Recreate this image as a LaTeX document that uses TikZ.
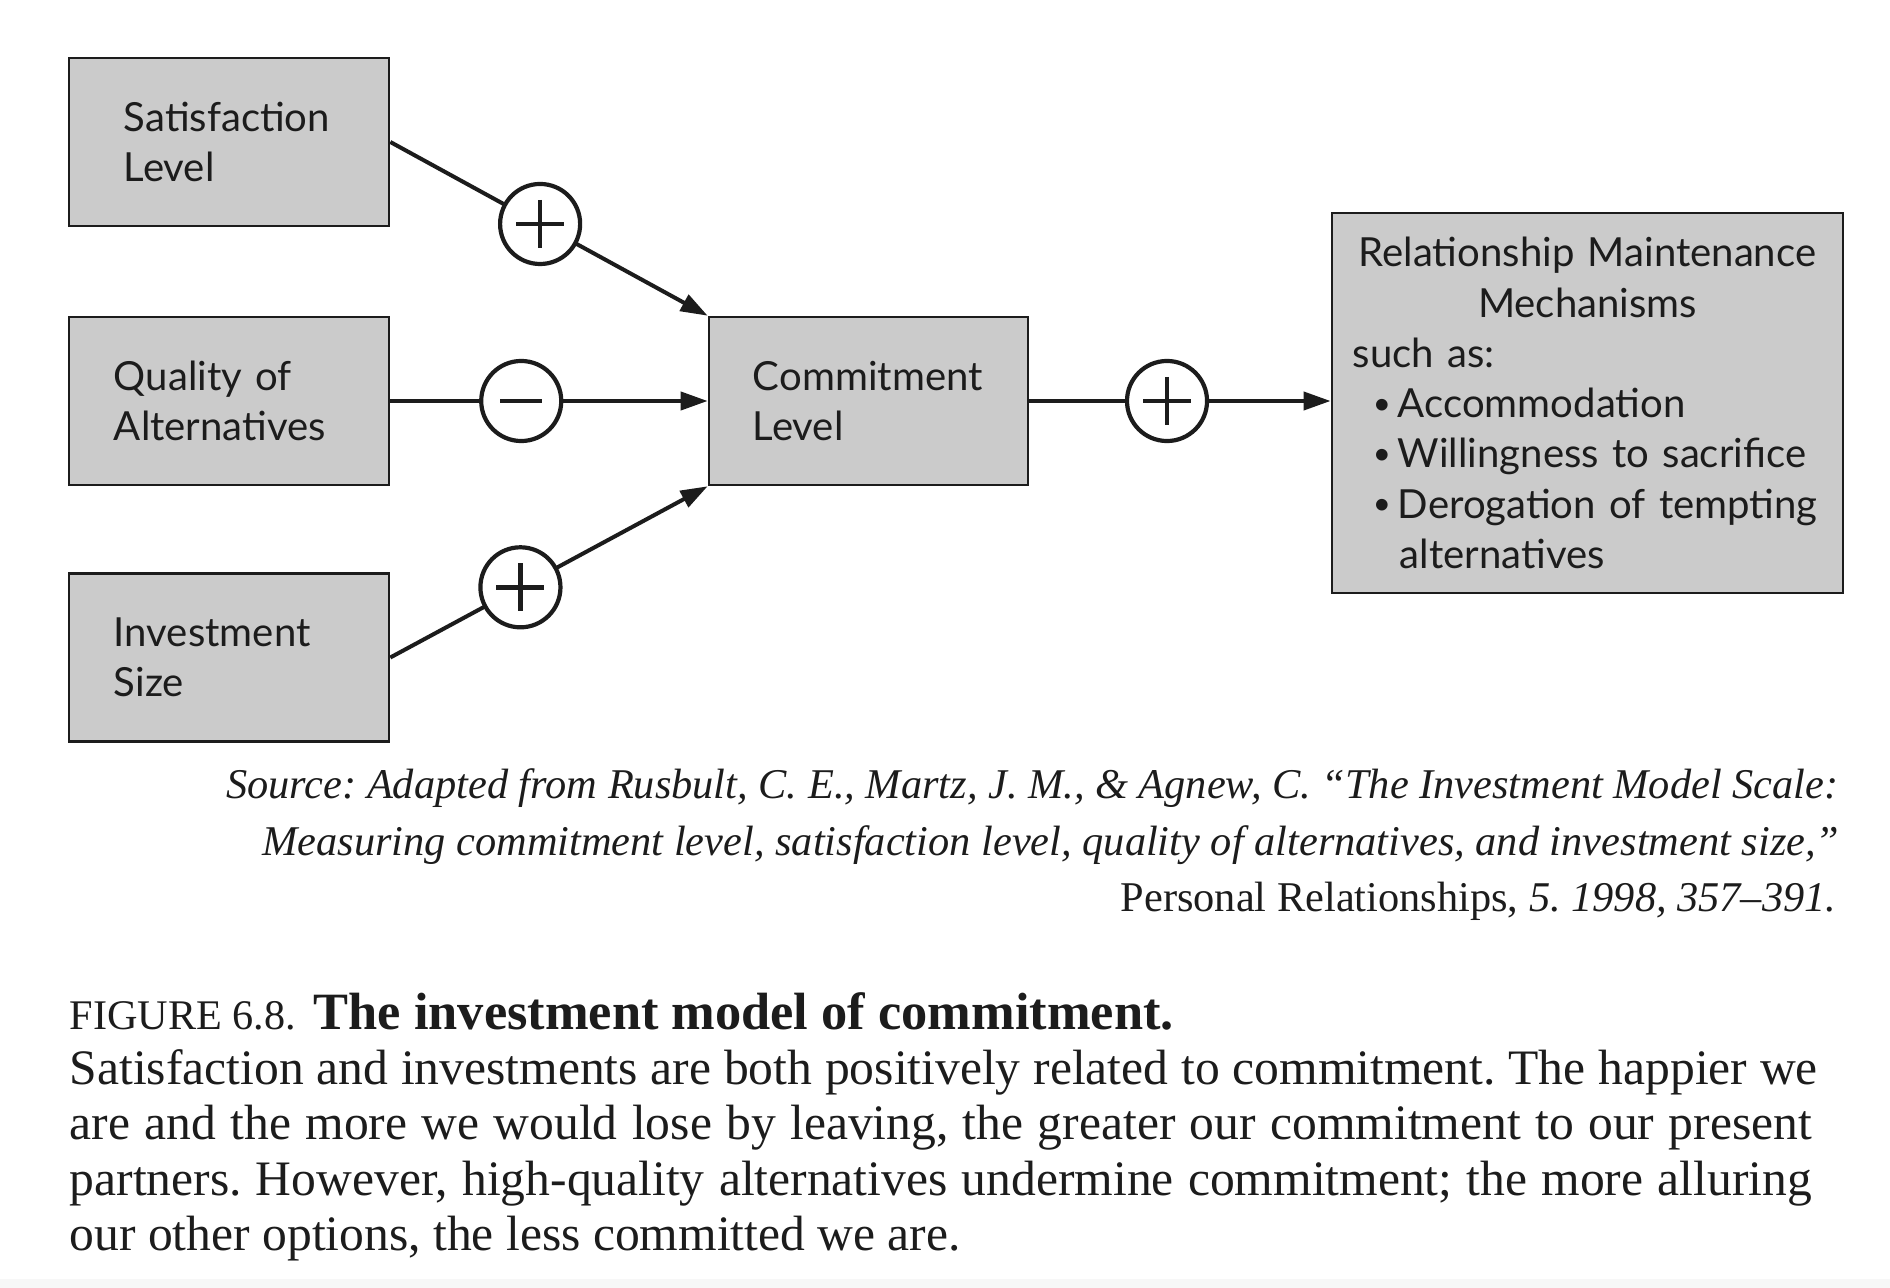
\documentclass[tikz,border=0pt]{standalone}
\usepackage{fontspec}
\setmainfont{Liberation Serif}
\newfontfamily\boxfont{Lato}
\usetikzlibrary{arrows.meta,calc}
\definecolor{boxgray}{HTML}{CBCBCB}
\definecolor{ink}{HTML}{1C1C1C}
\frenchspacing
\newcommand{\bul}{\hspace*{0.2cm}\makebox[0.25cm][l]{\raisebox{0.035cm}{\scalebox{0.78}{•}}}}
\begin{document}
\begin{tikzpicture}[x=0.01cm,y=-0.01cm,
  box/.style={draw=ink, line width=0.025cm, fill=boxgray, rectangle, text=ink,
    font=\boxfont\fontsize{11.4}{14.3}\selectfont, align=left, inner ysep=0pt},
  arr/.style={draw=ink, line width=0.04cm, -{Triangle[length=0.27cm,width=0.18cm]}},
  sign/.style={circle, draw=ink, line width=0.042cm, fill=white, minimum size=0.8cm, inner sep=0pt},
  bar/.style={draw=ink, line width=0.045cm},
  txt/.style={inner sep=0pt, text=ink},
]
\fill[white] (0,0) rectangle (1890,1288);
\fill[gray!6] (0,1279) rectangle (1890,1288);
\useasboundingbox (0,0) rectangle (1890,1288);

% boxes
\node[box, minimum width=3.2cm, minimum height=1.68cm, text width=2.1cm, inner xsep=0.55cm] (sat) at (229,142) {\mbox{Satisfaction}\\Level};
\node[box, minimum width=3.2cm, minimum height=1.68cm, text width=2.3cm, inner xsep=0.45cm] (qual) at (229,401) {\mbox{Quality of}\\\mbox{Alternatives}};
\node[box, minimum width=3.2cm, minimum height=1.68cm, text width=2.3cm, inner xsep=0.45cm] (inv) at (229,657.5) {\mbox{Investment}\\Size};
\node[box, minimum width=3.19cm, minimum height=1.68cm, text width=2.31cm, inner xsep=0.44cm] (com) at (868.5,401) {\mbox{Commitment}\\Level};
\node[box, minimum width=5.11cm, minimum height=3.8cm, text width=4.69cm, inner xsep=0.21cm] (rel) at (1587.5,403)
 {\makebox[4.69cm][c]{Relationship Maintenance}\\
  \makebox[4.69cm][c]{Mechanisms}\\
  \mbox{such as:}\\
  \mbox{\bul Accommodation}\\
  \mbox{\bul Willingness to sacrifice}\\
  \mbox{\bul Derogation of tempting}\\
  \mbox{\hspace*{0.47cm}alternatives}};

% connectors
\draw[arr] (sat.east) -- (com.north west);
\draw[arr] (qual.east) -- (com.west);
\draw[arr] (inv.east) -- (com.south west);
\draw[arr] (com.east) -- (com.east -| rel.west);

% sign circles
\node[sign] (s1) at ($(sat.east)!0.472!(com.north west)$) {};
\node[sign] (s2) at ($(qual.east)!0.4125!(com.west)$) {};
\node[sign] (s3) at ($(inv.east)!0.41!(com.south west)$) {};
\node[sign] (s4) at ($(com.east)!0.457!(com.east -| rel.west)$) {};
\draw[bar] ($(s1)+(-24,0)$) -- ($(s1)+(24,0)$) ($(s1)+(0,-24)$) -- ($(s1)+(0,24)$);
\draw[bar] ($(s2)+(-21,0)$) -- ($(s2)+(21,0)$);
\draw[bar] ($(s3)+(-24,0)$) -- ($(s3)+(24,0)$) ($(s3)+(0,-24)$) -- ($(s3)+(0,24)$);
\draw[bar] ($(s4)+(-24,0)$) -- ($(s4)+(24,0)$) ($(s4)+(0,-24)$) -- ($(s4)+(0,24)$);

% source
\node[txt, anchor=base east, font=\itshape\fontsize{12.05}{14}\selectfont] (src1) at (1839,798)
 {Source: Adapted from Rusbult, C. E., Martz, J. M., \& Agnew, C. “The Investment Model Scale:};
\node[txt, anchor=base east, font=\itshape\fontsize{12.05}{14}\selectfont] (src2) at (1840,855)
 {Measuring commitment level, satisfaction level, quality of alternatives, and investment size,”};
\node[txt, anchor=base east, font=\fontsize{12.05}{14}\selectfont] (src3) at (1837,911)
 {Personal Relationships, \textit{5. 1998, 357–391.}};

% caption
\node[txt, anchor=base west, font=\fontsize{12}{14}\selectfont] (figlbl) at (69,1029) {FIGURE 6.8.};
\node[txt, anchor=base west, font=\bfseries\fontsize{14.9}{16}\selectfont] (figttl) at (313,1029) {The investment model of commitment.};
\node[txt, anchor=base west, font=\fontsize{14.1}{16}\selectfont] (cap1) at (69,1084)
 {\makebox[17.47cm][s]{Satisfaction and investments are both positively related to commitment. The happier we}};
\node[txt, anchor=base west, font=\fontsize{14.1}{16}\selectfont] (cap2) at (69,1139)
 {\makebox[17.41cm][s]{are and the more we would lose by leaving, the greater our commitment to our present}};
\node[txt, anchor=base west, font=\fontsize{14.1}{16}\selectfont] (cap3) at (69,1195)
 {\makebox[17.41cm][s]{partners. However, high-quality alternatives undermine commitment; the more alluring}};
\node[txt, anchor=base west, font=\fontsize{14.1}{16}\selectfont] (cap4) at (69,1250)
 {our other options, the less committed we are.};
\end{tikzpicture}
\end{document}
